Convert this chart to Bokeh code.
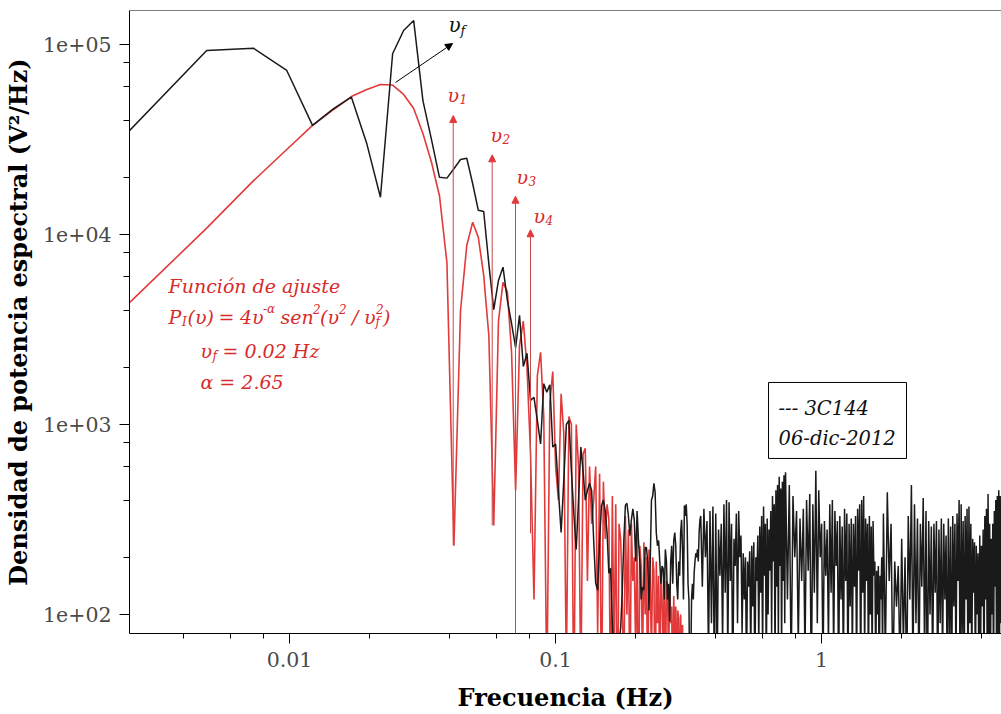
from bokeh.plotting import figure
from bokeh.models import (Range1d, FixedTicker, CustomJSTickFormatter, Label, Arrow,
                          NormalHead, BoxAnnotation, Span, ColumnDataSource)
from bokeh.embed import file_html
from bokeh.resources import INLINE

# FFT bin width (Hz)
DF = 10.0 / 4096

# ---- measured spectrum (black) : PSD per FFT bin ----
black_bins_low = list(range(1, 144))
black_psd_low = [
    34000, 93000, 95600, 73000, 37500, 46000, 52800, 30000, 15700, 89400,
    118500, 133700, 50700, 31600, 20000, 19800, 22200, 24800, 25200, 18500,
    13400, 13200, 7010, 4020, 5730, 6730, 4500, 3400, 2540, 3750,
    2020, 2370, 1340, 1390, 1050,
    790, 1640, 1480, 1620, 760, 790, 450, 270, 505, 1000,
    1050, 570, 340, 220, 400, 760, 570, 400, 450, 490,
    450, 245, 146, 134, 245, 375, 400, 350, 270, 165,
    175, 90, 50, 60, 45, 70, 85, 133, 245, 375,
    385, 330, 260, 315, 360, 315, 190, 350, 245, 190,
    120, 140, 134, 225, 225, 190, 105, 190, 400, 420,
    490, 440, 270, 230, 245, 190, 145, 180, 175, 120,
    220, 190, 120, 145, 92, 190, 230, 145, 245, 270,
    230, 145, 120, 190, 160, 270, 315, 220, 120, 375,
    330, 380, 300, 145, 120, 40, 50, 120, 145, 120,
    165, 190, 210, 200, 220, 190, 270, 315,
]
black_bins_a = list(range(144, 300, 2))
black_psd_a = [
    330, 140, 360, 200, 310, 60, 350, 90, 370, 45,
    340, 50, 280, 160, 300, 70, 380, 130, 400, 60,
    390, 150, 300, 40, 250, 180, 340, 90, 350, 200,
    260, 80, 210, 120, 200, 50, 190, 140, 215, 60,
    230, 110, 240, 40, 200, 150, 260, 70, 290, 130,
    330, 60, 370, 160, 300, 45, 320, 100, 280, 170,
    350, 80, 420, 190, 380, 55, 450, 140, 480, 70,
    530, 180, 460, 60, 500, 150, 540, 90,
]
black_bins_b = list(range(300, 700, 5))
black_psd_b = [
    560, 120, 480, 50, 420, 200, 350, 70, 320, 150,
    360, 60, 400, 170, 430, 40, 380, 130, 570, 90,
    450, 200, 300, 50, 310, 160, 280, 70, 380, 130,
    400, 60, 350, 180, 310, 40, 330, 120, 290, 50,
    360, 150, 340, 45, 300, 110, 320, 60, 300, 140,
    330, 50, 360, 170, 380, 40, 400, 130, 420, 60,
    320, 150, 300, 45, 330, 100, 290, 55, 310, 160,
    190, 50, 170, 100, 180, 40, 160, 120, 200, 60,
]
black_bins_c = list(range(700, 1949, 12))
black_psd_c = [
    340, 60, 440, 150, 300, 40, 190, 110, 180, 50,
    250, 70, 200, 40, 330, 120, 480, 50, 380, 90,
    320, 45, 300, 140, 410, 60, 350, 35, 310, 100,
    290, 50, 300, 130, 310, 40, 280, 90, 320, 55,
    300, 120, 260, 45, 320, 70, 290, 40, 330, 110,
    300, 50, 340, 150, 400, 35, 380, 80, 310, 45,
    330, 120, 360, 40, 370, 90, 300, 50, 250, 130,
    240, 45, 230, 100, 210, 40, 260, 70, 230, 110,
    280, 40, 330, 120, 360, 50, 430, 80, 300, 45,
    250, 100, 300, 40, 350, 140, 400, 55, 420, 70,
    450, 60, 420, 90, 380,
]

# ---- fitted function (red) : PSD per FFT bin ----
red_bins = list(range(1, 127))
red_psd = [
    4230, 10800, 19200, 28000, 37500, 45500, 53200, 58000, 61600, 61200,
    54600, 46000, 34000, 24000, 16000, 7130, 230, 3980, 8750, 11600,
    9660, 6090, 2940, 294, 3500, 5600, 5000, 2400, 450, 2600,
    3500, 2000, 700, 120, 1800, 2400, 1100, 40, 1300, 1900,
    600, 400, 1450, 900, 50, 1100, 1000, 30, 1000, 600,
    40, 700, 750, 150, 600, 300, 400, 600, 80, 550,
    30, 500, 250, 380, 320, 30, 420, 60, 380, 20,
    300, 250, 120, 40, 330, 100, 280, 30, 300, 150,
    200, 60, 270, 20, 230, 180, 50, 240, 100, 200,
    30, 220, 150, 60, 200, 170, 25, 190, 90, 160,
    40, 175, 120, 60, 165, 30, 150, 140, 50, 140,
    90, 110, 30, 125, 70, 110, 40, 105, 95, 30,
    100, 60, 88, 40, 70, 30,
]

# characteristic frequencies (Hz) and arrow extents
nu_freq = [0.04125, 0.05781, 0.07073, 0.08054]
nu_tail = [231, 294, 46, 267]
nu_tip = [42270, 26270, 15910, 10590]
nu_names = ["1", "2", "3", "4"]

black_bins = black_bins_low + black_bins_a + black_bins_b + black_bins_c
black_psd = black_psd_low + black_psd_a + black_psd_b + black_psd_c
black_src = ColumnDataSource(dict(f=[k * DF for k in black_bins], p=black_psd))
red_src = ColumnDataSource(dict(f=[k * DF for k in red_bins], p=red_psd))

X0, X1 = 0.002503, 4.75
Y0, Y1 = 79.4, 151000

p = figure(width=1001, height=714, x_axis_type="log", y_axis_type="log",
           x_range=Range1d(X0, X1), y_range=Range1d(Y0, Y1),
           output_backend="svg", toolbar_location=None,
           min_border_left=129, min_border_right=0, min_border_top=10,
           min_border_bottom=81)
p.outline_line_color = None
p.grid.visible = False
p.background_fill_color = "white"
p.border_fill_color = "white"

SERIF = "DejaVu Serif"
RED = "#e23a3a"
RED_TXT = "#d92a2a"

p.line("f", "p", source=red_src, line_color=RED, line_width=1.6)
p.line("f", "p", source=black_src, line_color="#1a1a1a", line_width=1.5)

p.add_layout(Span(location=Y1, dimension="width", line_color="black", line_width=1))

# axes
p.xaxis.ticker = FixedTicker(ticks=[0.01, 0.1, 1],
                             minor_ticks=[0.004, 0.006, 0.008, 0.02, 0.04, 0.06, 0.08,
                                          0.2, 0.4, 0.6, 0.8, 2, 4])
p.yaxis.ticker = FixedTicker(ticks=[100, 1000, 10000, 100000],
                             minor_ticks=[200, 400, 600, 800, 2000, 4000, 6000, 8000,
                                          20000, 40000, 60000, 80000])
p.xaxis.formatter = CustomJSTickFormatter(code="return tick >= 1 ? tick.toFixed(0) : String(tick);")
p.yaxis.formatter = CustomJSTickFormatter(code="""
const e = Math.round(Math.log10(tick));
return '1e+' + (e < 10 ? '0' : '') + e;""")
for ax in (p.xaxis, p.yaxis):
    ax.axis_line_color = "black"
    ax.major_tick_line_color = "black"
    ax.minor_tick_line_color = "black"
    ax.major_tick_in = 0
    ax.minor_tick_in = 0
    ax.major_tick_out = 10
    ax.major_label_text_font = SERIF
    ax.major_label_text_font_size = "20.5px"
    ax.major_label_text_color = "#4a4a4a"
    ax.axis_label_text_font = SERIF
    ax.axis_label_text_font_style = "bold"
    ax.axis_label_text_font_size = "24px"
    ax.axis_label_text_color = "black"
p.xaxis.minor_tick_out = 5
p.yaxis.minor_tick_out = 6
p.xaxis.major_label_standoff = 8
p.yaxis.major_label_standoff = 8
p.xaxis.axis_label_standoff = 13
p.yaxis.axis_label_standoff = 7
p.xaxis.axis_label = "Frecuencia (Hz)"
p.yaxis.axis_label = "Densidad de potencia espectral (V²/Hz)"

LIFT = 6  # baseline correction, px


def txt(x, y, s, size, color, dx=0, dy=0, style="italic"):
    p.add_layout(Label(x=x, y=y, text=s, x_offset=dx, y_offset=dy + LIFT,
                       text_font=SERIF, text_font_size=f"{size}px",
                       text_font_style=style, text_color=color,
                       text_baseline="alphabetic", text_align="left"))


# red arrows for characteristic frequencies
for f, t0, t1 in zip(nu_freq, nu_tail, nu_tip):
    p.add_layout(Arrow(x_start=f, y_start=t0, x_end=f, y_end=t1,
                       line_color="#c84848", line_width=1,
                       end=NormalHead(size=7, fill_color=RED, line_color=RED)))

# labels of the characteristic frequencies
nu_label_pos = [(0.03927, 49530), (0.05696, 30500), (0.07135, 18550), (0.08266, 11430)]
for (lx, ly), n in zip(nu_label_pos, nu_names):
    txt(lx, ly, "υ", 19, RED_TXT, dy=1)
    txt(lx, ly, n, 12, RED_TXT, dx=12, dy=-3)

# black arrow and nu_f label
p.add_layout(Arrow(x_start=0.02503, y_start=63096, x_end=0.04101, y_end=101220,
                   line_color="black", line_width=1,
                   end=NormalHead(size=7, fill_color="black", line_color="black")))
txt(0.03960, 114300, "υ", 20, "#111111", dy=2)
txt(0.03960, 114300, "f", 13, "#111111", dx=12, dy=-3)

# fit description
AX = 0.003509
txt(AX, 4951, "Función de ajuste", 19, RED_TXT)
L2 = 3401
pieces = [
    ("P", 19, 0, 0), ("I", 12, 13.5, -5), ("(υ)", 19, 19, 0), ("=", 19, 50, 0),
    ("4υ", 19, 71.5, 0), ("-α", 12, 94.5, 8), ("sen", 19, 112, 0), ("2", 12, 144.5, 8),
    ("(υ", 19, 151.5, 0), ("2", 12, 170.5, 8), ("/", 19, 183.5, 0), ("υ", 19, 195.5, 0),
    ("f", 12, 207, -5), ("2", 12, 207.5, 8), (")", 19, 214.5, 0),
]
for s, sz, dx, dy in pieces:
    txt(AX, L2, s, sz, RED_TXT, dx=dx, dy=dy)
BX = 0.004628
txt(BX, 2252, "υ", 19, RED_TXT)
txt(BX, 2252, "f", 12, RED_TXT, dx=12, dy=-5)
txt(BX, 2252, "= 0.02 Hz", 19, RED_TXT, dx=22)
txt(BX, 1547, "α = 2.65", 19, RED_TXT)

# legend box
p.add_layout(BoxAnnotation(left=0.6322, right=2.087, bottom=662.4, top=1664,
                           fill_color="white", fill_alpha=1, line_color="black",
                           line_alpha=1, line_width=1, level="annotation"))
txt(0.6892, 1115, "--- 3C144", 19.5, "#111111", dy=1)
txt(0.6892, 775.6, "06-dic-2012", 19.5, "#111111", dy=1)

open("out.html", "w").write(file_html(p, INLINE))
